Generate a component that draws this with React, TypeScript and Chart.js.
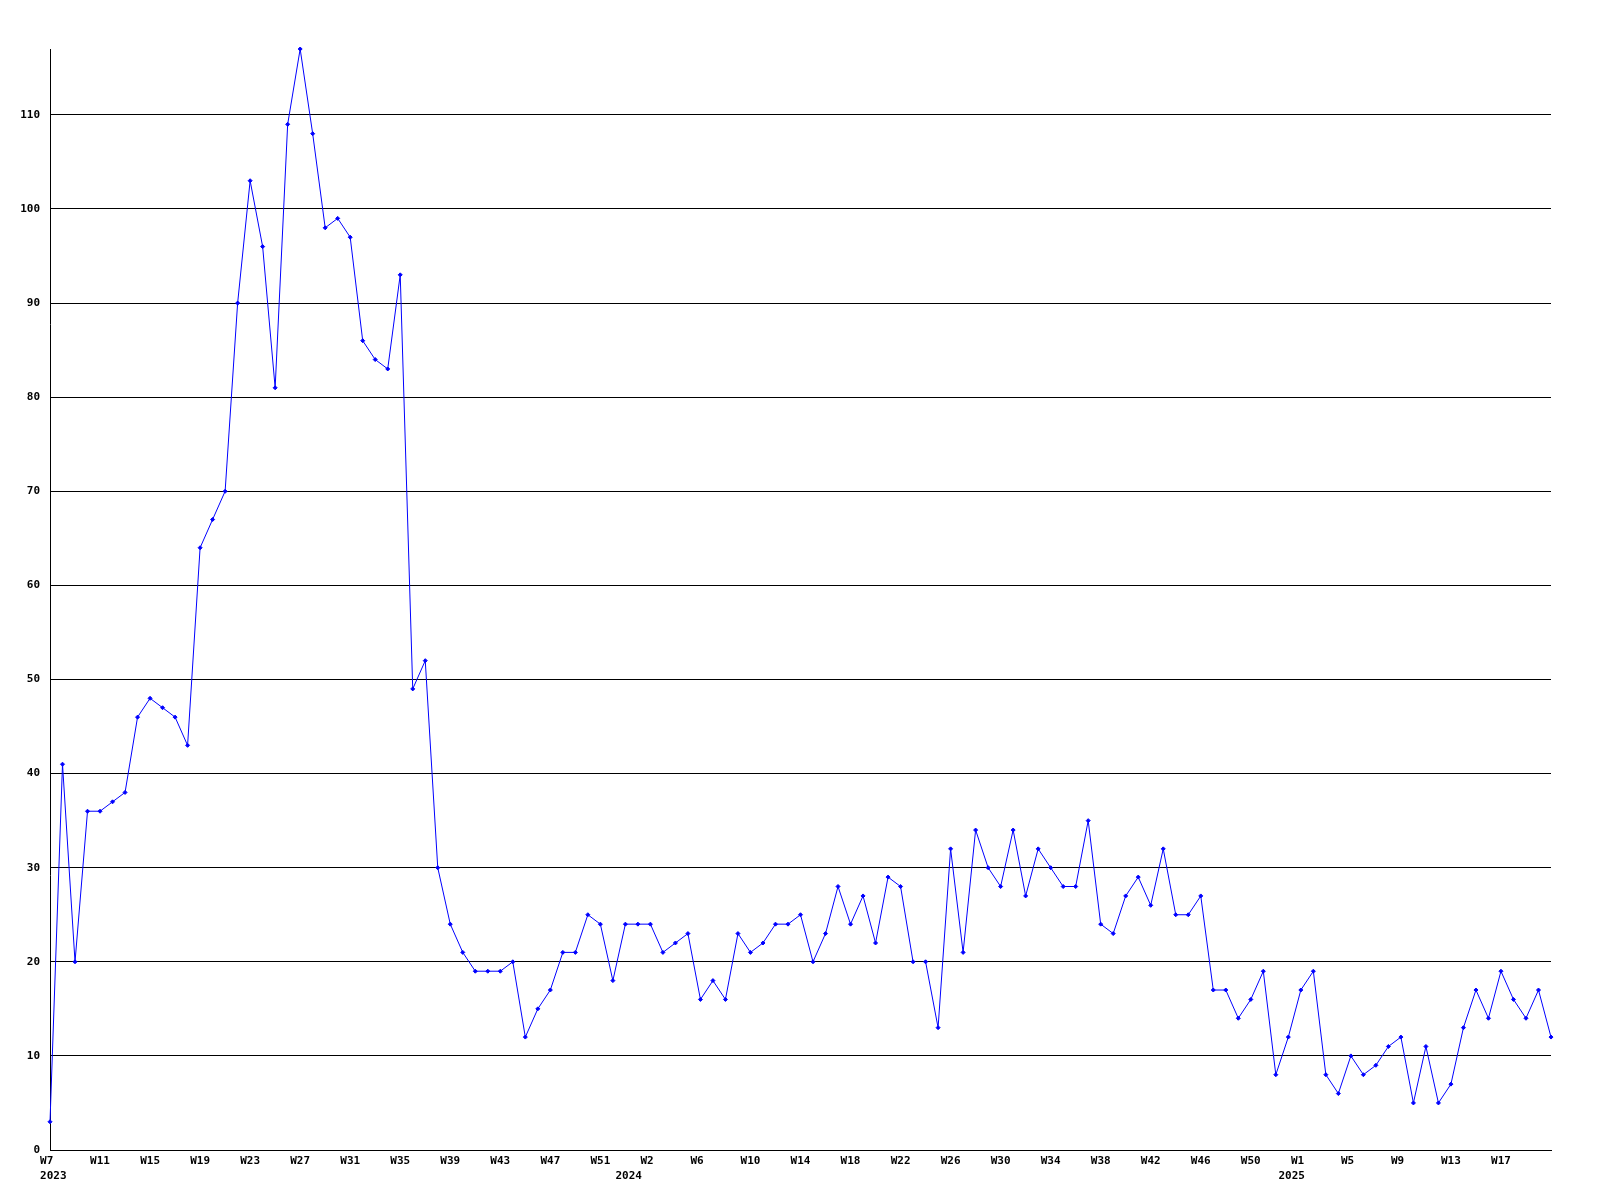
import React, { useEffect, useRef } from "react";
import { Chart, registerables } from "chart.js";

Chart.register(...registerables);

// Week ranges per year (category axis): first and last week index shown
const years = [2023, 2024, 2025];
const firstWeek = [7, 0, 0];
const lastWeek = [52, 52, 21];

// Weekly counts, 2023 W7 -> 2025 W21
const values = [
  3, 41, 20, 36, 36, 37, 38, 46, 48, 47,
  46, 43, 64, 67, 70, 90, 103, 96, 81, 109,
  117, 108, 98, 99, 97, 86, 84, 83, 93, 49,
  52, 30, 24, 21, 19, 19, 19, 20, 12, 15,
  17, 21, 21, 25, 24, 18, 24, 24, 24, 21,
  22, 23, 16, 18, 16, 23, 21, 22, 24, 24,
  25, 20, 23, 28, 24, 27, 22, 29, 28, 20,
  20, 13, 32, 21, 34, 30, 28, 34, 27, 32,
  30, 28, 28, 35, 24, 23, 27, 29, 26, 32,
  25, 25, 27, 17, 17, 14, 16, 19, 8, 12,
  17, 19, 8, 6, 10, 8, 9, 11, 12, 5,
  11, 5, 7, 13, 17, 14, 19, 16, 14, 17, 12,
];

// Segments (index of first point) where the line is not drawn
const brokenSegments = [69];

// Y tick step
const yStep = 10;

type Cat = { week: number; year: number; yearStart: boolean };

const categories: Cat[] = [];
years.forEach((y, yi) => {
  for (let w = firstWeek[yi]; w <= lastWeek[yi]; w++) {
    categories.push({ week: w, year: y, yearStart: w === firstWeek[yi] });
  }
});
const labels = categories.map((c) => `${c.year} W${c.week}`);

const FONT = { family: "'DejaVu Sans Mono', 'Liberation Mono', monospace", size: 11, weight: "bold" as const, lineHeight: 15 / 11 };

export default function App() {
  const ref = useRef<HTMLCanvasElement | null>(null);

  useEffect(() => {
    const canvas = ref.current;
    if (!canvas) return;
    const chart = new Chart(canvas, {
      type: "line",
      data: {
        labels,
        datasets: [
          {
            data: values,
            borderColor: "#0000ff",
            borderWidth: 1,
            backgroundColor: "#0000ff",
            pointStyle: "rectRot",
            pointRadius: 2,
            pointBackgroundColor: "#0000ff",
            pointBorderColor: "#0000ff",
            pointBorderWidth: 1,
            tension: 0,
            fill: false,
            clip: false as any,
            segment: {
              borderColor: (ctx: any) =>
                brokenSegments.includes(ctx.p0DataIndex) ? "rgba(0,0,0,0)" : undefined,
            },
          },
        ],
      },
      options: {
        animation: false,
        responsive: false,
        devicePixelRatio: 1,
        layout: { padding: { top: 49, right: 49, left: 0, bottom: 0 } },
        plugins: { legend: { display: false }, tooltip: { enabled: false } },
        scales: {
          x: {
            type: "category",
            offset: false,
            grid: { display: false, drawTicks: false },
            border: { display: true, color: "#000", width: 1 },
            ticks: {
              autoSkip: false,
              maxRotation: 0,
              minRotation: 0,
              padding: 4,
              color: "#000",
              font: FONT,
              callback: (_v: any, i: number) => {
                const c = categories[i];
                if (!c) return "";
                const show = i % 4 === 0 && i < categories.length - 1;
                const wk = show ? ("W" + c.week).padEnd(3, " ") : "";
                if (c.yearStart) return [wk, " " + c.year];
                return wk;
              },
            },
            afterFit: (s: any) => {
              s.height = 50;
            },
          },
          y: {
            min: 0,
            max: Math.max(...values),
            grid: { color: "#000", lineWidth: 1, drawTicks: false },
            border: { display: true, color: "#000", width: 1 },
            ticks: {
              stepSize: yStep,
              includeBounds: false,
              padding: 10,
              color: "#000",
              font: FONT,
            },
            afterFit: (s: any) => {
              s.width = 50;
            },
          },
        },
      },
    } as any);
    return () => chart.destroy();
  }, []);

  return (
    <div style={{ position: "fixed", left: 0, top: 0, width: 1600, height: 1200, background: "#fff" }}>
      <canvas ref={ref} width={1600} height={1200} style={{ display: "block", width: 1600, height: 1200 }} />
    </div>
  );
}
